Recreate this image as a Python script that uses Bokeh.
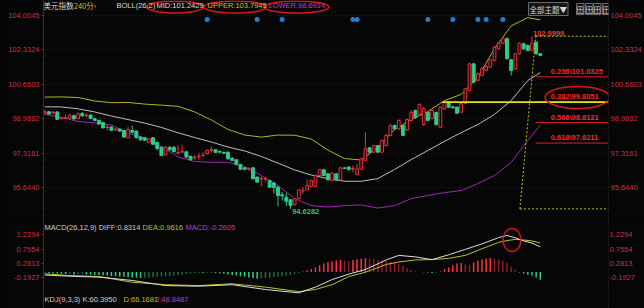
import numpy as np
from bokeh.plotting import figure
from bokeh.models import Range1d, LinearAxis, FixedTicker, PrintfTickFormatter, Label, Grid
from bokeh.layouts import column
from bokeh.embed import file_html
from bokeh.resources import INLINE
from bokeh.core.properties import value

# ---------------- data ----------------
opens = [99.28, 99.34, 99.29, 99.33, 99.00, 99.03, 99.04, 99.15, 99.01, 99.25,
         99.15, 99.18, 99.01, 98.92, 98.82, 98.57, 98.60, 98.46, 98.50, 98.43,
         98.08, 98.43, 98.40, 98.11, 98.08, 97.86, 98.08, 97.85, 97.62, 97.25,
         97.62, 97.62, 97.33, 97.38, 97.40, 97.18, 97.11, 97.16, 97.21, 97.30,
         97.47, 97.50, 97.42, 97.37, 97.38, 97.09, 97.01, 96.78, 96.62, 96.55,
         96.62, 96.17, 96.08, 96.07, 96.01, 95.89, 95.68, 95.31, 95.20, 95.07,
         94.84, 95.13, 95.50, 95.56, 95.72, 95.72, 96.25, 96.53, 96.33, 96.01,
         96.33, 96.04, 96.62, 96.66, 96.56, 96.30, 96.55, 96.98, 97.59, 97.38,
         97.70, 97.38, 97.70, 98.19, 98.67, 98.51, 98.67, 98.46, 98.92, 99.40,
         99.21, 98.72, 99.30, 99.01, 99.30, 98.59, 99.48, 99.80, 99.58, 99.56,
         99.32, 99.75, 100.37, 101.66, 100.86, 101.10, 101.34, 101.50, 101.82, 102.39,
         102.66, 102.88, 101.86, 101.42, 102.15, 102.63, 102.55, 102.31, 102.71, 102.15]
highs = [99.43, 99.38, 99.38, 99.36, 99.08, 99.20, 99.25, 99.20, 99.30, 99.33,
         99.26, 99.22, 99.04, 98.95, 98.85, 98.74, 98.64, 98.53, 98.52, 98.45,
         98.60, 98.67, 98.43, 98.14, 98.10, 98.06, 98.11, 97.88, 97.65, 97.68,
         97.66, 97.66, 97.71, 97.74, 97.43, 97.21, 97.24, 97.35, 97.37, 97.50,
         97.66, 97.52, 97.45, 97.39, 97.41, 97.12, 97.04, 96.81, 96.65, 96.65,
         96.65, 96.20, 96.20, 96.18, 96.04, 95.92, 95.76, 95.45, 95.42, 95.10,
         95.15, 95.60, 95.68, 96.06, 96.04, 96.30, 96.56, 96.57, 96.36, 96.40,
         96.36, 96.66, 96.65, 96.69, 96.73, 96.80, 97.10, 98.35, 97.62, 97.73,
         97.73, 97.98, 98.24, 98.72, 98.72, 98.97, 98.72, 99.00, 99.40, 99.45,
         99.75, 99.55, 99.35, 99.45, 99.35, 99.60, 99.90, 99.85, 99.62, 99.60,
         99.78, 100.50, 101.72, 101.70, 101.25, 101.50, 101.60, 101.90, 102.52, 102.72,
         102.93, 102.95, 101.90, 102.20, 102.70, 102.68, 102.60, 103.00, 102.75, 102.18]
lows = [99.22, 99.20, 99.22, 98.94, 98.98, 98.97, 99.00, 98.96, 98.98, 99.09,
        99.06, 98.98, 98.90, 98.70, 98.52, 98.43, 98.40, 98.42, 98.37, 98.08,
        98.05, 98.30, 98.05, 97.95, 97.92, 97.83, 97.72, 97.46, 97.18, 97.22,
        97.46, 97.37, 97.30, 97.33, 97.11, 96.98, 97.00, 97.02, 97.20, 97.27,
        97.37, 97.35, 97.35, 97.30, 97.02, 96.95, 96.75, 96.52, 96.52, 96.49,
        96.06, 95.90, 95.72, 95.93, 95.65, 95.38, 94.75, 95.04, 94.76, 94.63,
        94.80, 95.10, 95.36, 95.53, 95.68, 95.69, 96.22, 96.22, 96.00, 95.98,
        96.00, 96.00, 96.56, 96.50, 96.41, 96.27, 96.52, 96.95, 97.35, 97.35,
        97.35, 97.35, 97.66, 98.15, 98.47, 98.47, 98.15, 98.40, 98.88, 99.00,
        99.15, 98.67, 98.88, 98.97, 98.67, 98.55, 99.44, 99.52, 99.50, 99.24,
        99.28, 99.70, 100.33, 100.73, 100.82, 101.06, 101.30, 101.46, 101.78, 102.35,
        102.62, 101.87, 101.10, 101.38, 102.10, 102.35, 102.27, 102.27, 102.10, 102.04]
closes = [99.33, 99.23, 99.32, 98.97, 99.04, 99.06, 99.17, 98.99, 99.24, 99.14,
          99.18, 99.02, 98.92, 98.74, 98.56, 98.60, 98.44, 98.50, 98.40, 98.11,
          98.47, 98.34, 98.08, 97.98, 97.95, 98.03, 97.76, 97.56, 97.22, 97.62,
          97.49, 97.40, 97.36, 97.42, 97.14, 97.01, 97.14, 97.19, 97.24, 97.46,
          97.50, 97.37, 97.38, 97.33, 97.06, 96.98, 96.78, 96.55, 96.55, 96.58,
          96.09, 95.93, 96.11, 96.10, 95.68, 95.67, 95.28, 95.26, 95.00, 94.80,
          95.12, 95.55, 95.53, 95.76, 96.00, 96.25, 96.53, 96.25, 96.04, 96.36,
          96.04, 96.62, 96.59, 96.53, 96.59, 96.57, 97.06, 97.54, 97.38, 97.70,
          97.38, 97.95, 98.19, 98.67, 98.51, 98.92, 98.19, 98.96, 99.30, 99.06,
          99.69, 99.50, 98.92, 99.40, 98.72, 99.56, 99.80, 99.56, 99.53, 99.27,
          99.73, 100.45, 101.66, 100.77, 101.18, 101.42, 101.53, 101.86, 102.47, 102.66,
          102.88, 101.91, 101.34, 102.15, 102.66, 102.39, 102.31, 102.66, 102.15, 102.07]

band_idx = [0, 4, 8, 12, 16, 20, 24, 28, 32, 36, 40, 44, 48, 52, 56, 60, 64, 68, 72, 76,
            80, 84, 88, 92, 96, 100, 104, 108, 112, 116, 119]
boll_upper = [100.05, 100.06, 100.03, 99.86, 99.78, 99.79, 99.71, 99.66, 99.60, 99.33,
              98.94, 98.48, 98.21, 98.11, 98.21, 98.20, 98.02, 97.48, 97.07, 97.00,
              97.61, 98.48, 98.96, 99.35, 99.88, 100.18, 101.00, 102.40, 103.50, 103.90, 103.7945]
boll_mid = [99.58, 99.57, 99.48, 99.33, 99.13, 98.96, 98.79, 98.58, 98.32, 98.09,
            97.87, 97.63, 97.44, 97.17, 96.85, 96.52, 96.27, 96.10, 95.97, 95.97,
            96.10, 96.54, 97.02, 97.46, 97.90, 98.33, 98.72, 99.21, 99.88, 100.85, 101.2429]
boll_lower = [99.22, 99.06, 98.87, 98.80, 98.70, 98.30, 98.07, 97.65, 97.15, 96.93,
              96.89, 96.89, 96.69, 96.25, 95.76, 95.13, 94.79, 94.72, 94.79, 94.82,
              94.67, 94.79, 95.13, 95.28, 95.42, 95.52, 95.86, 96.25, 96.88, 97.95, 98.6914]

macd_idx = [0, 6, 13, 21, 29, 37, 45, 53, 61, 65, 69, 73, 77, 82, 85, 89, 93, 97, 101,
            105, 109, 111, 113, 115, 117, 119]
diff_line = [-0.10, -0.14, -0.17, -0.28, -0.45, -0.47, -0.42, -0.58, -0.69, -0.50, -0.25,
             -0.07, 0.08, 0.40, 0.55, 0.50, 0.41, 0.57, 0.75, 0.93, 1.14, 1.21, 1.13, 1.03,
             0.96, 0.8314]
dea_line = [-0.06, -0.12, -0.15, -0.34, -0.42, -0.45, -0.39, -0.50, -0.65, -0.58, -0.42,
            -0.15, -0.01, 0.25, 0.33, 0.40, 0.41, 0.45, 0.55, 0.77, 0.98, 1.04, 1.08, 1.06,
            1.03, 0.9616]
macd_hist = [-0.02, -0.03, -0.04, -0.05,
             -0.06, -0.07, -0.06, -0.08, -0.07, -0.06, -0.08, -0.09, -0.10,
             -0.10, -0.11, -0.12, -0.13, -0.14, -0.15, -0.16, -0.17,
             -0.18, -0.19, -0.20, -0.19, -0.18, -0.17, -0.16, -0.15, -0.14, -0.13, -0.12, -0.10, -0.08,
             -0.06, -0.05, -0.04, -0.03, -0.03, -0.02, -0.02,
             -0.03, -0.04, -0.06, -0.08, -0.10, -0.12, -0.14, -0.16,
             -0.18, -0.20, -0.22, -0.21, -0.20, -0.19, -0.17, -0.15, -0.14, -0.12,
             -0.10, -0.07, -0.03, 0.02,
             0.06, 0.10, 0.15, 0.22, 0.28, 0.33, 0.36, 0.38,
             0.40, 0.38, 0.36, 0.40, 0.42, 0.44, 0.46, 0.45, 0.43, 0.40,
             0.38, 0.36, 0.34, 0.30, 0.26, 0.20,
             0.12, 0.07, 0.03, 0.01, -0.01,
             -0.02, -0.03, -0.02, 0.02,
             0.10, 0.15, 0.22, 0.28, 0.30, 0.26, 0.24, 0.32,
             0.38, 0.42, 0.44, 0.46, 0.44, 0.42, 0.38,
             0.30, 0.18, 0.08, -0.02, -0.05, -0.08, -0.12, -0.18, -0.2605]

price_ticks = [95.6440, 97.3161, 98.9882, 100.6603, 102.3324, 104.0045]
macd_ticks = [-0.1927, 0.2813, 0.7554, 1.2294]

fib_names = ["0.236", "0.382", "0.500", "0.618"]
fib_prices = [101.0325, 99.8051, 98.8131, 97.8211]
fib_high = 102.9999
fib_low = 94.6282
fib_x_low = 114.1     # where the user drew the tool (candle index units)
fib_x_high = 117.9
support_x = 95.5      # start of the yellow support line at 0.382
high_idx = 117
low_idx = 59
signal_idx = [39, 51, 57, 74, 75, 92, 98, 104, 106, 110]
last_price = 98.5532

# ---------------- layout constants ----------------
BG = "#060606"
RED = "#f0303e"
GREEN = "#2fcb8b"
AXIS_RED = "#cc3046"
FONT = "Liberation Sans"
CJK = "Noto Sans CJK SC"
W, H1, H2 = 644, 220, 88
BL, BR = 43, 33
X0, PXI = 44.3, 4.186
x_lo = (BL - X0) / PXI
x_hi = (W - BR - X0) / PXI
PPX = 20.63
price_top = price_ticks[-1] + 15 / PPX
price_bot = price_ticks[-1] - (H1 - 15) / PPX
MPX = 30.2
macd_top = 51.5 / MPX
macd_bot = -(H2 - 51.5) / MPX

xr = Range1d(x_lo, x_hi)


def style_axis(ax, side, minor):
    ax.axis_line_color = "#2e2e2e"
    if side == "right":
        ax.axis_line_dash = "1 2"
        ax.major_tick_line_color = None
        ax.major_tick_out = 0
        ax.major_label_standoff = 1
    else:
        ax.major_tick_line_color = "#444444"
        ax.major_tick_out = 2
        ax.major_label_standoff = 2
    ax.major_tick_in = 0
    ax.minor_tick_in = 0
    ax.minor_tick_out = 1
    ax.minor_tick_line_color = "#3c3c3c" if (minor and side == "left") else None
    ax.major_label_text_color = AXIS_RED
    ax.major_label_text_font = FONT
    ax.major_label_text_font_size = "7.5px"


def base_fig(h, yr):
    f = figure(width=W, height=h, x_range=xr, y_range=yr, output_backend="svg",
               toolbar_location=None, x_axis_location=None, y_axis_location=None,
               min_border_left=BL, min_border_right=BR, min_border_top=0, min_border_bottom=0,
               background_fill_color=BG, border_fill_color=BG, outline_line_color=None)
    f.xgrid.grid_line_color = None
    f.ygrid.grid_line_color = None
    return f


def lab(f, x, y, text, color, font=FONT, align="left", size="7.5px", **kw):
    f.add_layout(Label(x=x, y=y, x_units="screen", y_units="screen", text=text,
                       text_color=color, text_font=font, text_font_size=size,
                       text_align=align, text_baseline="middle", **kw))


# ---------------- main price panel ----------------
p = base_fig(H1, Range1d(price_bot, price_top))
step = price_ticks[1] - price_ticks[0]
minor = []
t = price_ticks[0] - step
while t < price_top:
    minor += [t + k * step / 5 for k in range(1, 5)]
    t += step
for side in ("left", "right"):
    ax = LinearAxis(ticker=FixedTicker(ticks=price_ticks, minor_ticks=minor),
                    formatter=PrintfTickFormatter(format="%.4f"))
    style_axis(ax, side, True)
    p.add_layout(ax, side)
p.add_layout(Grid(dimension=1, ticker=FixedTicker(ticks=price_ticks),
                  grid_line_color="#262626", grid_line_dash="1 3"))

idx = np.arange(len(opens))
o, h, l, c = map(np.array, (opens, highs, lows, closes))
up = c >= o
top = np.maximum(o, c)
bot = np.minimum(o, c)
dn = ~up

# bollinger bands
p.line(band_idx, boll_upper, line_color="#b4b41c", line_width=1)
p.line(band_idx, boll_mid, line_color="#bdbdbd", line_width=1)
p.line(band_idx, boll_lower, line_color="#a424bd", line_width=1)

# candles
p.segment(idx[up], h[up], idx[up], top[up], line_color=RED, line_width=1)
p.segment(idx[up], bot[up], idx[up], l[up], line_color=RED, line_width=1)
p.vbar(x=idx[up], bottom=bot[up], top=top[up], width=0.66, fill_color=BG,
       line_color=RED, line_width=1)
p.segment(idx[dn], h[dn], idx[dn], l[dn], line_color=GREEN, line_width=1)
p.vbar(x=idx[dn], bottom=bot[dn], top=top[dn], width=0.7, fill_color=GREEN,
       line_color=GREEN, line_width=1)

# extreme marks
p.text(x=[high_idx], y=[fib_high], text=["%.4f" % fib_high], text_color="#ff3030",
       text_font=value(FONT), text_font_size="7.5px", text_font_style="bold",
       text_baseline="bottom", text_align="left", x_offset=1)
p.text(x=[low_idx + 0.4], y=[fib_low], text=["%.4f" % fib_low], text_color="#2fc080",
       text_font=value(FONT), text_font_size="7.5px", text_font_style="bold",
       text_baseline="top", text_align="left")

# fibonacci tool
p.segment(x0=[fib_x_high, fib_x_low], y0=[fib_high, fib_low], x1=[x_hi, x_hi],
          y1=[fib_high, fib_low], line_color="#c8c800", line_dash="2 2", line_width=1)
p.segment(x0=[fib_x_low], y0=[fib_low], x1=[fib_x_high], y1=[fib_high],
          line_color="#c8c800", line_dash="2 2", line_width=1)
p.segment(x0=[fib_x_high] * 4, y0=fib_prices, x1=[x_hi] * 4, y1=fib_prices,
          line_color="#e02020", line_width=1)
p.segment(x0=[support_x], y0=[fib_prices[1]], x1=[x_hi], y1=[fib_prices[1]],
          line_color="#e6e600", line_width=1.6)
p.text(x=[121.5] * 4, y=fib_prices, text=[n + "\\" + "%.4f" % v for n, v in zip(fib_names, fib_prices)],
       text_color="#ff2424", text_font=value(FONT), text_font_size="7.5px",
       text_font_style="bold", text_baseline="bottom", text_align="left", y_offset=-1)

# signal dots
p.scatter(signal_idx, [price_top - 19 / PPX] * len(signal_idx), size=5,
          fill_color="#1f7fd0", line_color=None)

# red annotation ellipses
p.ellipse(x=[31.3, 45.7, 60.5, 127.9],
          y=[price_top - 6.5 / PPX] * 3 + [100.03],
          width=[13.6, 15.0, 15.5, 15.5], height=[0.58, 0.58, 0.58, 1.07],
          fill_color=None, line_color="#e01414", line_width=1.5)

# header
lab(p, 0, 215, "美元指数", "#d8d8d8", font=CJK)
lab(p, 28, 215, "‹240分›", "#e0b030", font=CJK)
lab(p, 73, 215, "BOLL(26,2)", "#dcdcdc")
lab(p, 113, 215, "MID:%.4f" % boll_mid[-1], "#dcdcdc")
lab(p, 164, 215, "UPPER:%.4f" % boll_upper[-1], "#c8c81e")
lab(p, 225, 215, "LOWER:%.4f" % boll_lower[-1], "#c23cd2")
lab(p, 485, 211.5, "全部主题▼", "#d8d8d8", font=CJK, border_line_color="#6a6a6a",
    background_fill_color="#151515", padding=1)
for k, xx in enumerate([533, 542, 550, 559]):
    lab(p, xx, 211.5, "田", "#d8d8d8", font=CJK, border_line_color="#6a6a6a",
        background_fill_color="#151515")
p.add_layout(Label(x=W - BR - BL + 1, y=last_price, x_units="screen", y_units="data",
                   text="%.4f" % last_price, text_color="#f2dcb8", text_font=FONT,
                   text_font_size="7.5px", text_baseline="middle", text_align="left",
                   background_fill_color="#6e4214", padding=1))

# ---------------- MACD panel ----------------
q = base_fig(H2, Range1d(macd_bot, macd_top))
for side in ("left", "right"):
    ax = LinearAxis(ticker=FixedTicker(ticks=macd_ticks),
                    formatter=PrintfTickFormatter(format="%.4f"))
    style_axis(ax, side, False)
    q.add_layout(ax, side)

hcol = []
for k, v in enumerate(macd_hist):
    prev = macd_hist[k - 1] if k else v
    if v >= 0:
        hcol.append("#ff3044" if v >= prev else "#8e1c2b")
    else:
        hcol.append("#2fd08a" if v <= prev else "#1b6b47")
q.vbar(x=idx, bottom=0, top=macd_hist, width=0.36, fill_color=hcol, line_color=None)
q.line(macd_idx, dea_line, line_color="#c0c01c", line_width=1)
q.line(macd_idx, diff_line, line_color="#dcdcdc", line_width=1)
q.ellipse(x=[112.2], y=[1.06], width=4.3, height=0.76, fill_color=None,
          line_color="#e01414", line_width=1.5)

lab(q, 1, 81, "MACD(26,12,9) DIFF:%.4f" % diff_line[-1], "#d0d0d0")
lab(q, 99, 81, "DEA:%.4f" % dea_line[-1], "#c0c01c")
lab(q, 142, 81, "MACD:%.4f" % macd_hist[-1], "#c23cd2")
lab(q, 1, 9, "KDJ(9,3,3) K:60.3950", "#d0d0d0")
lab(q, 80, 9, "D:66.1681", "#c0c01c")
lab(q, 112, 9, "J:48.8487", "#c23cd2")
lab(q, -2, 4.5, "115.7622", AXIS_RED, align="right", size="7px")

layout = column(p, q, spacing=0, background=BG)
open("out.html", "w").write(file_html(layout, INLINE))
